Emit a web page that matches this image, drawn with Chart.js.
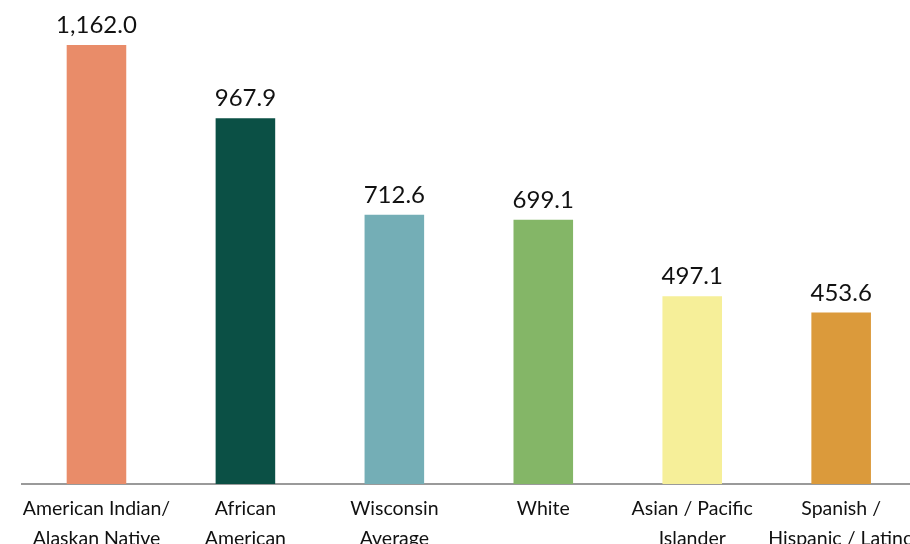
<!DOCTYPE html>
<html>
<head>
<meta charset="utf-8">
<script src="https://cdn.jsdelivr.net/npm/chart.js@4/dist/chart.umd.min.js"></script>
<style>
  html, body { margin: 0; padding: 0; background: #fff; overflow: hidden; }
  #wrap { width: 916px; height: 544px; }
</style>
</head>
<body>
<div id="wrap"><canvas id="barChart"></canvas></div>
<script>
var categories = [
    ['American Indian/', 'Alaskan Native'],
    ['African', 'American'],
    ['Wisconsin', 'Average'],
    ['White'],
    ['Asian / Pacific', 'Islander'],
    ['Spanish /', 'Hispanic / Latino']
];
var rates = [1162.0, 967.9, 712.6, 699.1, 497.1, 453.6];
var barColors = ['#E98C69', '#0B5045', '#74AEB6', '#84B667', '#F6EF99', '#DB9A3B'];

// draw the number above every bar
var valueLabels = {
    id: 'valueLabels',
    afterDatasetsDraw: function (chart) {
        var c = chart.ctx;
        var meta = chart.getDatasetMeta(0);
        c.save();
        c.font = '24px Lato, "Open Sans", sans-serif';
        c.fillStyle = '#111';
        c.textAlign = 'center';
        c.textBaseline = 'alphabetic';
        meta.data.forEach(function (bar, i) {
            var txt = rates[i].toLocaleString('en-US', { minimumFractionDigits: 1, maximumFractionDigits: 1 });
            c.fillText(txt, bar.x, bar.y - 12);
        });
        c.restore();
    }
};

var ctx = document.getElementById('barChart').getContext('2d');
var myChart = new Chart(ctx, {
    type: 'bar',
    data: {
        labels: categories,
        datasets: [{
            data: rates,
            backgroundColor: barColors,
            borderWidth: 0,
            barPercentage: 0.4,
            categoryPercentage: 1
        }]
    },
    options: {
        responsive: true,
        maintainAspectRatio: false,
        animation: false,
        layout: { padding: { left: 22, right: 0, top: 0, bottom: 0 } },
        plugins: {
            legend: { display: false },
            tooltip: { enabled: false }
        },
        scales: {
            x: {
                grid: { display: false },
                border: { display: true, color: '#9a9a9a', width: 2 },
                ticks: {
                    color: '#111',
                    font: { family: 'Lato, "Open Sans", sans-serif', size: 19.5, lineHeight: 1.54 },
                    padding: 2,
                    maxRotation: 0,
                    autoSkip: false
                },
                afterFit: function (scale) { scale.height = 60; }
            },
            y: {
                display: false,
                min: 0,
                max: 1281
            }
        }
    },
    plugins: [valueLabels]
});
</script>
</body>
</html>
